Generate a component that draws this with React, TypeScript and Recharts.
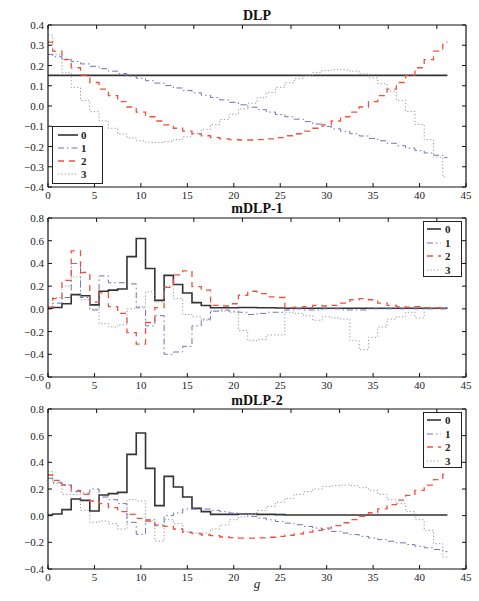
import React from "react";
import { LineChart, Line, XAxis, YAxis, Label } from "recharts";

// g = 0..43
const g = [
  0, 1, 2, 3, 4, 5, 6, 7, 8, 9, 10, 11, 12, 13, 14, 15, 16, 17, 18, 19, 20, 21,
  22, 23, 24, 25, 26, 27, 28, 29, 30, 31, 32, 33, 34, 35, 36, 37, 38, 39, 40, 41,
  42, 43,
];

const xTicks = [0, 5, 10, 15, 20, 25, 30, 35, 40, 45];
const yTicksDlp = [-0.4, -0.3, -0.2, -0.1, 0, 0.1, 0.2, 0.3, 0.4];
const yTicksM1 = [-0.6, -0.4, -0.2, 0, 0.2, 0.4, 0.6, 0.8];
const yTicksM2 = [-0.4, -0.2, 0, 0.2, 0.4, 0.6, 0.8];

const seriesNames = ["0", "1", "2", "3"];

// DLP
const dlp0 = [
  0.151, 0.151, 0.151, 0.151, 0.151, 0.151, 0.151, 0.151, 0.151, 0.151, 0.151,
  0.151, 0.151, 0.151, 0.151, 0.151, 0.151, 0.151, 0.151, 0.151, 0.151, 0.151,
  0.151, 0.151, 0.151, 0.151, 0.151, 0.151, 0.151, 0.151, 0.151, 0.151, 0.151,
  0.151, 0.151, 0.151, 0.151, 0.151, 0.151, 0.151, 0.151, 0.151, 0.151, 0.151,
];
const dlp1 = [
  0.255, 0.243, 0.232, 0.22, 0.208, 0.196, 0.184, 0.172, 0.16, 0.148, 0.137,
  0.125, 0.113, 0.101, 0.089, 0.077, 0.065, 0.053, 0.042, 0.03, 0.018, 0.006,
  -0.006, -0.018, -0.03, -0.042, -0.053, -0.065, -0.077, -0.089, -0.101, -0.113,
  -0.125, -0.137, -0.148, -0.16, -0.172, -0.184, -0.196, -0.208, -0.22, -0.232,
  -0.243, -0.255,
];
const dlp2 = [
  0.315, 0.271, 0.229, 0.189, 0.152, 0.116, 0.083, 0.051, 0.022, -0.005, -0.03,
  -0.053, -0.074, -0.093, -0.11, -0.124, -0.137, -0.147, -0.156, -0.162, -0.166,
  -0.168, -0.168, -0.166, -0.162, -0.156, -0.147, -0.137, -0.124, -0.11, -0.093,
  -0.074, -0.053, -0.03, -0.005, 0.022, 0.051, 0.083, 0.116, 0.152, 0.189, 0.229,
  0.271, 0.315,
];
const dlp3 = [
  0.35, 0.253, 0.166, 0.091, 0.027, -0.028, -0.073, -0.11, -0.138, -0.158,
  -0.172, -0.179, -0.18, -0.175, -0.166, -0.152, -0.135, -0.115, -0.092, -0.067,
  -0.041, -0.014, 0.014, 0.041, 0.067, 0.092, 0.115, 0.135, 0.152, 0.166, 0.175,
  0.18, 0.179, 0.172, 0.158, 0.138, 0.11, 0.073, 0.028, -0.027, -0.091, -0.166,
  -0.253, -0.35,
];

// mDLP (series 0 is the same in both)
const m0 = [
  0.005, 0.012, 0.045, 0.125, 0.115, 0.035, 0.155, 0.165, 0.175, 0.46, 0.62,
  0.355, 0.075, 0.295, 0.215, 0.14, 0.055, 0.03, 0.01, 0.01, 0.01, 0.012, 0.012,
  0.01, 0.01, 0.008, 0.005, 0.005, 0.005, 0.005, 0.005, 0.005, 0.005, 0.005,
  0.005, 0.005, 0.005, 0.005, 0.005, 0.005, 0.005, 0.005, 0.005, 0.005,
];

const m1s1 = [
  0.01, 0.05, 0.1, 0.4, 0.1, -0.01, 0.29, 0.23, 0.23, 0.22, 0.01, -0.15, -0.06,
  -0.4, -0.38, -0.33, -0.15, -0.09, -0.02, -0.01, -0.02, -0.03, -0.05, -0.04,
  -0.03, -0.03, -0.01, 0, -0.01, -0.01, 0, 0, -0.01, -0.01, -0.01, 0, 0, 0, 0, 0,
  0, 0, 0, 0,
];
const m1s2 = [
  0.015, 0.09, 0.25, 0.51, 0.32, 0.06, 0.14, 0.02, -0.04, -0.21, -0.31, -0.12,
  0.01, 0.19, 0.3, 0.335, 0.195, 0.165, 0.03, 0.025, 0.045, 0.12, 0.155, 0.135,
  0.105, 0.1, 0.01, 0.015, 0.02, 0.03, 0.025, 0.03, 0.05, 0.08, 0.09, 0.08, 0.05,
  0.03, 0.02, 0.015, 0.02, 0.01, 0.01, 0.01,
];
const m1s3 = [
  0.02, 0.1, 0.2, 0.28, 0.08, 0, -0.13, -0.16, -0.14, 0, 0.02, 0.15, 0.06, 0.2,
  0.09, -0.05, -0.07, -0.1, -0.02, -0.02, -0.03, -0.19, -0.28, -0.27, -0.23,
  -0.23, -0.03, -0.04, -0.06, -0.1, -0.07, -0.08, -0.09, -0.28, -0.36, -0.25,
  -0.16, -0.09, -0.07, -0.03, -0.08, 0, 0, 0,
];

const m2s1 = [
  0.28, 0.25, 0.23, 0.18, 0.17, 0.2, 0.14, 0.12, 0.09, -0.05, -0.14, -0.03,
  -0.07, 0, 0.02, 0.05, 0.05, 0.05, 0.04, 0.03, 0.02, 0.008, -0.005, -0.018,
  -0.031, -0.044, -0.056, -0.068, -0.081, -0.093, -0.105, -0.118, -0.13, -0.142,
  -0.155, -0.167, -0.18, -0.192, -0.204, -0.217, -0.229, -0.241, -0.254, -0.27,
];
const m2s2 = [
  0.305, 0.265, 0.23, 0.19, 0.16, 0.11, 0.09, 0.06, 0.03, 0.01, -0.02, -0.04,
  -0.075, -0.08, -0.1, -0.125, -0.135, -0.145, -0.15, -0.16, -0.165, -0.168,
  -0.168, -0.166, -0.162, -0.156, -0.147, -0.137, -0.124, -0.11, -0.093, -0.074,
  -0.053, -0.03, -0.005, 0.022, 0.051, 0.083, 0.116, 0.152, 0.189, 0.229, 0.271,
  0.31,
];
const m2s3 = [
  0.33, 0.24, 0.16, 0.16, 0.04, -0.05, -0.04, -0.06, -0.1, 0.12, 0.11, -0.04,
  -0.19, -0.03, -0.06, -0.12, -0.13, -0.13, -0.1, -0.07, -0.03, -0.01, 0.01,
  0.04, 0.07, 0.1, 0.13, 0.16, 0.18, 0.2, 0.22, 0.225, 0.23, 0.225, 0.21, 0.19,
  0.16, 0.12, 0.09, 0.03, -0.03, -0.11, -0.21, -0.31,
];

const styles = [
  { stroke: "#333333", width: 1.6, dash: undefined as string | undefined },
  { stroke: "#6a73bd", width: 1, dash: "6 3 1.5 3" },
  { stroke: "#f0513b", width: 1.3, dash: "6 5" },
  { stroke: "#969696", width: 1, dash: "1.2 2.2" },
];

const FONT = "'Liberation Serif', 'DejaVu Serif', serif";

const makeRows = (cols: number[][]) =>
  g.map((x, i) => ({ g: x, s0: cols[0][i], s1: cols[1][i], s2: cols[2][i], s3: cols[3][i] }));

const fmtY = (v: number) => (v < -1e-9 ? "\u2212" : "") + Math.abs(v).toFixed(1);

const BottomTick = (p: any) => (
  <g>
    <line x1={p.x} x2={p.x} y1={p.y} y2={p.y - 4} stroke="#111" />
    <text x={p.x} y={p.y + 12} textAnchor="middle" fontSize={11} fontFamily={FONT} fill="#222">
      {p.payload.value}
    </text>
  </g>
);
const TopTick = (p: any) => <line x1={p.x} x2={p.x} y1={p.y} y2={p.y + 4} stroke="#111" />;
const LeftTick = (p: any) => (
  <g>
    <line x1={p.x} x2={p.x + 4} y1={p.y} y2={p.y} stroke="#111" />
    <text x={p.x - 4} y={p.y + 4} textAnchor="end" fontSize={11} fontFamily={FONT} fill="#222">
      {fmtY(p.payload.value)}
    </text>
  </g>
);
const RightTick = (p: any) => <line x1={p.x} x2={p.x - 4} y1={p.y} y2={p.y} stroke="#111" />;

const axisLine = { stroke: "#111", strokeWidth: 1.2 };

function Panel(props: {
  top: number;
  height: number;
  marginTop: number;
  bottomHeight: number;
  data: any[];
  yDomain: [number, number];
  yTicks: number[];
  xLabel?: string;
}) {
  const { top, height, marginTop, bottomHeight, data, yDomain, yTicks, xLabel } = props;
  return (
    <div style={{ position: "absolute", left: 0, top }}>
      <LineChart width={479} height={height} data={data} margin={{ top: marginTop, right: 12, bottom: 0, left: 8 }}>
        <XAxis
          dataKey="g"
          type="number"
          domain={[0, 45]}
          ticks={xTicks}
          interval={0}
          height={bottomHeight}
          tickSize={0}
          tickMargin={0}
          tickLine={false}
          tick={(p: any) => <BottomTick {...p} />}
          axisLine={axisLine}
          allowDataOverflow
        >
          {xLabel && (
            <Label value={xLabel} position="insideBottom" offset={11} fontSize={13} fontStyle="italic" fontFamily={FONT} fill="#222" />
          )}
        </XAxis>
        <XAxis
          xAxisId="top"
          orientation="top"
          type="number"
          domain={[0, 45]}
          ticks={xTicks}
          interval={0}
          height={1}
          tickSize={0}
          tickMargin={0}
          tickLine={false}
          tick={(p: any) => <TopTick {...p} />}
          axisLine={axisLine}
          allowDataOverflow
        />
        <YAxis
          type="number"
          domain={yDomain}
          ticks={yTicks}
          interval={0}
          width={40}
          tickSize={0}
          tickMargin={0}
          tickLine={false}
          tick={(p: any) => <LeftTick {...p} />}
          axisLine={axisLine}
          allowDataOverflow
        />
        <YAxis
          yAxisId="r"
          orientation="right"
          type="number"
          domain={yDomain}
          ticks={yTicks}
          interval={0}
          width={1}
          tickSize={0}
          tickMargin={0}
          tickLine={false}
          tick={(p: any) => <RightTick {...p} />}
          axisLine={axisLine}
          allowDataOverflow
        />
        {styles.map((s, i) => (
          <Line
            key={i}
            type="step"
            dataKey={"s" + i}
            stroke={s.stroke}
            strokeWidth={s.width}
            strokeDasharray={s.dash}
            dot={false}
            activeDot={false}
            isAnimationActive={false}
          />
        ))}
      </LineChart>
    </div>
  );
}

function LegendBox(props: {
  left: number;
  top: number;
  width: number;
  height: number;
  sample: [number, number];
  labelLeft: number;
  rowTop: number;
  rowGap: number;
}) {
  const { left, top, width, height, sample, labelLeft, rowTop, rowGap } = props;
  return (
    <div
      style={{
        position: "absolute",
        left,
        top,
        width,
        height,
        border: "1.5px solid #222",
        boxSizing: "border-box",
        background: "#fff",
      }}
    >
      {seriesNames.map((n, i) => (
        <div key={n} style={{ position: "absolute", left: 0, top: rowTop + i * rowGap - 7, height: 14, width: "100%" }}>
          <svg width={sample[1] + 2} height={14} style={{ position: "absolute", left: 0, top: 0 }}>
            <line
              x1={sample[0]}
              x2={sample[1]}
              y1={7}
              y2={7}
              stroke={styles[i].stroke}
              strokeWidth={styles[i].width}
              strokeDasharray={styles[i].dash}
            />
          </svg>
          <span
            style={{
              position: "absolute",
              left: labelLeft,
              top: 0,
              lineHeight: "14px",
              fontSize: 11,
              fontWeight: "bold",
              fontFamily: FONT,
              color: "#222",
            }}
          >
            {n}
          </span>
        </div>
      ))}
    </div>
  );
}

const titleStyle = (top: number): React.CSSProperties => ({
  position: "absolute",
  left: 48,
  width: 418,
  top: top - 9,
  height: 18,
  lineHeight: "18px",
  textAlign: "center",
  fontFamily: FONT,
  fontWeight: "bold",
  fontSize: 14,
  color: "#111",
});

export default function App() {
  const dataDlp = makeRows([dlp0, dlp1, dlp2, dlp3]);
  const dataM1 = makeRows([m0, m1s1, m1s2, m1s3]);
  const dataM2 = makeRows([m0, m2s1, m2s2, m2s3]);
  return (
    <div style={{ position: "absolute", left: 0, top: 0, width: 479, height: 601, background: "#fff" }}>
      <Panel top={0} height={202} marginTop={24} bottomHeight={15} data={dataDlp} yDomain={[-0.4, 0.4]} yTicks={yTicksDlp} />
      <Panel top={195} height={197} marginTop={22} bottomHeight={15} data={dataM1} yDomain={[-0.6, 0.8]} yTicks={yTicksM1} />
      <Panel top={385} height={214} marginTop={23} bottomHeight={30} data={dataM2} yDomain={[-0.4, 0.8]} yTicks={yTicksM2} xLabel="g" />
      <div style={titleStyle(16)}>DLP</div>
      <div style={titleStyle(209)}>mDLP-1</div>
      <div style={titleStyle(401)}>mDLP-2</div>
      <LegendBox left={52} top={126} width={51} height={58} sample={[5, 25]} labelLeft={28} rowTop={8} rowGap={13} />
      <LegendBox left={423} top={221} width={39} height={56} sample={[3, 17]} labelLeft={21} rowTop={7} rowGap={13.5} />
      <LegendBox left={423} top={412} width={39} height={56} sample={[3, 17]} labelLeft={21} rowTop={7} rowGap={13.5} />
    </div>
  );
}
